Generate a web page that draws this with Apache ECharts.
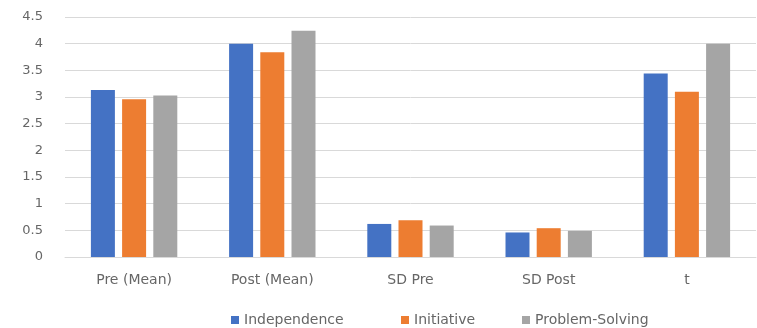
<!DOCTYPE html>
<html><head><meta charset="utf-8">
<script src="https://cdn.jsdelivr.net/npm/echarts@6/dist/echarts.min.js"></script>
<style>html,body{margin:0;padding:0;background:#fff}#c{width:757px;height:328px}</style>
</head><body><div id="c"></div>
<script>
var categories = ['Pre (Mean)', 'Post (Mean)', 'SD Pre', 'SD Post', 't'];
var independence = [3.13, 4.0, 0.62, 0.46, 3.44];
var initiative = [2.96, 3.84, 0.69, 0.54, 3.10];
var problemSolving = [3.03, 4.24, 0.59, 0.49, 4.0];
var seriesNames = ['Independence', 'Initiative', 'Problem-Solving'];
var colors = ['#4472C4', '#ED7D31', '#A5A5A5'];
var legendLeft = [231, 401, 522];
var font = '"DejaVu Sans", "Open Sans", sans-serif';
var chart = echarts.init(document.getElementById('c'));
var data = [independence, initiative, problemSolving];
chart.setOption({
  animation: false,
  grid: {left: 65, right: 1, top: 17, bottom: 71, containLabel: false},
  legend: seriesNames.map(function (n, i) {
    return {
      top: 313, left: legendLeft[i], itemWidth: 8, itemHeight: 8, itemGap: 0,
      icon: 'rect', padding: 0,
      textStyle: {color: '#666666', fontSize: 14, fontFamily: font},
      data: [n]
    };
  }),
  xAxis: {
    type: 'category', data: categories,
    axisLine: {lineStyle: {color: '#d9d9d9'}},
    axisTick: {show: false},
    axisLabel: {color: '#666666', fontSize: 14, fontFamily: font, margin: 16}
  },
  yAxis: {
    type: 'value', min: 0, max: 4.5, interval: 0.5,
    axisLine: {show: false}, axisTick: {show: false},
    splitLine: {lineStyle: {color: '#d9d9d9', width: 1}},
    axisLabel: {color: '#666666', fontSize: 13, fontFamily: font, margin: 22}
  },
  series: seriesNames.map(function (n, i) {
    return {
      name: n, type: 'bar', data: data[i], barWidth: 24, barGap: '30%',
      itemStyle: {color: colors[i]}
    };
  })
});
</script></body></html>
